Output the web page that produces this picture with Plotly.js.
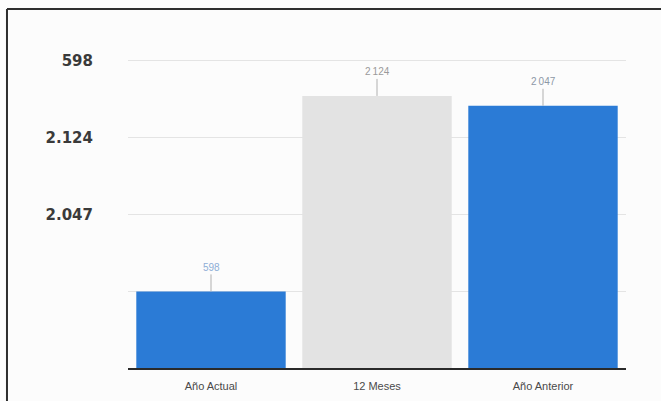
<!DOCTYPE html>
<html>
<head>
<meta charset="utf-8">
<script src="https://cdn.plot.ly/plotly-3.0.1.min.js"></script>
<style>html,body{margin:0;padding:0;background:#fcfcfc;}#chart{width:661px;height:401px;}</style>
</head>
<body>
<div id="chart"></div>
<script>
// Data
const categories = ['Año Actual', '12 Meses', 'Año Anterior'];
const values = [598, 2124, 2047];
const barColors = ['#2b7bd6', '#e3e3e3', '#2b7bd6'];
const valueLabelColors = ['#8eaed6', '#9a9a9a', '#8d98a6'];
// Y axis tick positions and the (odd) labels shown in the original
const yTickVals = [2400, 1800, 1200, 600];
const yTickText = ['598', '2.124', '2.047', ''];

function fmt(v) { return String(v).replace(/\B(?=(\d{3})+(?!\d))/g, '\u2009'); }

const trace = {
  type: 'bar',
  x: categories,
  y: values,
  marker: { color: barColors, line: { width: 0 } },
  hoverinfo: 'none'
};

const annotations = categories.map((c, i) => ({
  x: c, y: values[i], xref: 'x', yref: 'y',
  text: fmt(values[i]),
  showarrow: true, arrowhead: 0, arrowwidth: 1, arrowcolor: '#b0b0b0',
  ax: 0, ay: -24, standoff: 0,
  font: { family: 'Liberation Sans, Arial, sans-serif', size: 10, color: valueLabelColors[i] }
}));

const layout = {
  width: 661, height: 401,
  margin: { l: 128, r: 35, t: 58, b: 33 },
  paper_bgcolor: '#fcfcfc', plot_bgcolor: '#fcfcfc',
  showlegend: false,
  bargap: 0.1,
  xaxis: {
    type: 'category',
    showline: true, linecolor: '#2a2a2a', linewidth: 1.5,
    showgrid: false, zeroline: false, ticks: '',
    ticklabelstandoff: 7,
    tickfont: { family: 'Liberation Sans, Arial, sans-serif', size: 11, color: '#4a4a4a' },
    fixedrange: true
  },
  yaxis: {
    range: [0, 2420],
    tickmode: 'array', tickvals: yTickVals, ticktext: yTickText,
    showgrid: true, gridcolor: '#e4e4e4', gridwidth: 1,
    zeroline: false, showline: false, ticks: '',
    ticklabelstandoff: 34,
    tickfont: { family: 'DejaVu Sans, Verdana, sans-serif', size: 15, color: '#3a3a3a', weight: 'bold' },
    fixedrange: true
  },
  annotations: annotations,
  shapes: [
    { type: 'line', xref: 'paper', yref: 'paper', layer: 'above',
      x0: -0.243, x1: 1.2, y0: 1.158, y1: 1.158,
      line: { color: '#2e2e2e', width: 2 } },
    { type: 'line', xref: 'paper', yref: 'paper', layer: 'above',
      x0: -0.243, x1: -0.243, y0: -0.2, y1: 1.158,
      line: { color: '#2e2e2e', width: 2 } }
  ]
};

Plotly.newPlot('chart', [trace], layout, { staticPlot: true, displayModeBar: false });
</script>
</body>
</html>
